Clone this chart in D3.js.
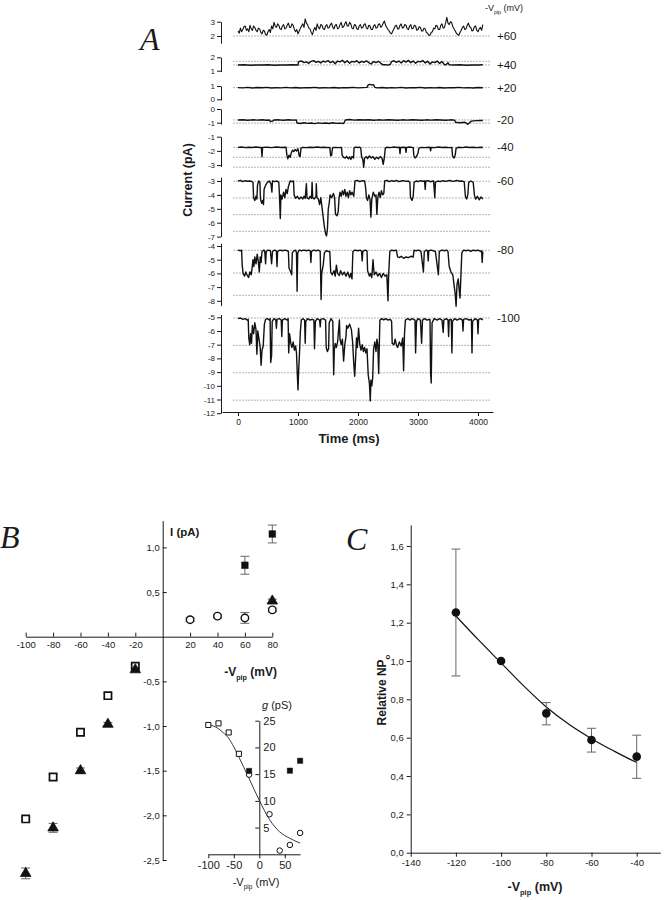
<!DOCTYPE html>
<html><head><meta charset="utf-8">
<script src="https://cdn.jsdelivr.net/npm/d3@7"></script>
<style>body{margin:0;background:#fff}svg{display:block}text{font-family:"Liberation Sans",Arial,sans-serif;fill:#1a1a1a}</style>
</head><body><svg id="c" width="664" height="900"></svg>
<script>
// ---------------- DATA ----------------
// Panel A: single-channel traces, flat [time(ms), current(pA), ...]
const traceLabels = ["+60", "+40", "+20", "-20", "-40", "-60", "-80", "-100"];
const tr60 = [0,2.35,20,2.2,40,2.55,60,2.3,80,2.45,100,2.65,120,2.7,140,2.4,160,2.5,180,2.3,200,2.75,220,2.5,240,2.4,260,2.7,280,2.6,300,2.4,320,2.3,340,2.55,360,2.5,380,2.25,400,2.15,420,2.4,440,2.35,460,2.1,480,2.05,500,2.3,520,2.45,540,2.25,560,2.7,580,2.5,600,2.95,620,2.7,640,2.6,660,2.85,680,2.75,700,2.5,720,2.45,740,2.7,760,2.8,780,2.5,800,2.55,820,2.75,840,2.9,860,2.6,880,2.6,900,2.85,920,2.75,940,2.45,960,2.3,980,2.45,1000,2.15,1020,2.35,1040,2.55,1060,2.7,1080,2.85,1100,2.6,1120,3.2,1140,2.9,1160,2.8,1180,2.55,1200,2.5,1220,2.25,1240,2.1,1260,2.4,1280,2.6,1300,2.4,1320,2.85,1340,2.6,1360,2.5,1380,2.8,1400,2.75,1420,2.5,1440,2.45,1460,2.7,1480,2.8,1500,2.55,1520,2.6,1540,2.8,1560,2.9,1580,2.6,1600,2.5,1620,2.75,1640,2.8,1660,2.5,1680,2.55,1700,2.8,1720,2.95,1740,2.6,1760,2.65,1780,2.85,1800,3.0,1820,2.7,1840,2.7,1860,2.95,1880,2.85,1900,2.55,1920,2.5,1940,2.8,1960,2.75,1980,2.5,2000,2.45,2020,2.7,2040,2.8,2060,2.55,2080,2.6,2100,2.8,2120,2.85,2140,2.55,2160,2.5,2180,2.75,2200,2.7,2220,2.45,2240,2.45,2260,2.7,2280,2.8,2300,2.55,2320,2.6,2340,2.8,2360,2.85,2380,2.6,2400,2.7,2420,2.9,2440,3.05,2460,2.75,2480,2.6,2500,2.45,2520,2.35,2540,2.2,2560,2.15,2580,2.35,2600,2.5,2620,2.7,2640,2.75,2660,2.5,2680,2.5,2700,2.75,2720,2.85,2740,2.55,2760,2.6,2780,2.8,2800,2.75,2820,2.5,2840,2.45,2860,2.7,2880,2.8,2900,2.5,2920,2.55,2940,2.75,2960,2.7,2980,2.4,3000,2.45,3020,2.65,3040,2.6,3060,2.35,3080,2.35,3100,2.55,3120,2.5,3140,2.25,3160,2.2,3180,2.05,3200,2.05,3220,2.25,3240,2.3,3260,2.55,3280,2.5,3300,2.75,3320,2.7,3340,2.45,3360,2.45,3380,2.75,3400,2.85,3420,2.55,3440,2.6,3460,2.9,3480,3.3,3500,2.9,3520,2.8,3540,3.0,3560,2.95,3580,2.65,3600,2.5,3620,2.35,3640,2.2,3660,2.1,3680,2.05,3700,2.25,3720,2.4,3740,2.6,3760,2.7,3780,2.45,3800,2.5,3820,2.75,3840,2.9,3860,2.65,3880,2.6,3900,2.35,3920,2.4,3940,2.65,3960,2.7,3980,2.4,4000,2.3,4020,2.5,4040,2.6,4060,2.4,4080,2.8];
const tr40 = [0,1.42,100,1.44,200,1.41,300,1.43,400,1.42,500,1.44,600,1.41,700,1.43,800,1.42,900,1.44,1000,1.42,1010,1.68,1060,1.72,1100,1.6,1140,1.66,1180,1.55,1220,1.7,1260,1.75,1300,1.62,1340,1.7,1380,1.58,1420,1.72,1460,1.65,1500,1.76,1540,1.6,1580,1.7,1620,1.52,1660,1.72,1700,1.66,1740,1.78,1780,1.6,1820,1.74,1860,1.56,1900,1.7,1940,1.64,1980,1.75,2020,1.58,2060,1.7,2100,1.62,2140,1.74,2180,1.6,2220,1.5,2260,1.68,2300,1.6,2340,1.7,2380,1.55,2420,1.44,2460,1.45,2500,1.42,2540,1.48,2560,1.68,2600,1.74,2640,1.62,2680,1.72,2720,1.58,2760,1.75,2800,1.64,2840,1.77,2880,1.6,2920,1.72,2960,1.56,3000,1.7,3040,1.66,3080,1.76,3120,1.58,3160,1.7,3200,1.5,3240,1.66,3280,1.6,3320,1.72,3360,1.54,3400,1.68,3440,1.46,3460,1.43,3500,1.6,3520,1.44,3600,1.42,3700,1.44,3800,1.41,3900,1.43,4000,1.42,4080,1.44];
const tr20 = [0,0.88,80,0.86,160,0.9,240,0.85,320,0.89,400,0.87,480,0.9,560,0.85,640,0.88,720,0.86,800,0.9,880,0.86,960,0.89,1040,0.85,1120,0.88,1200,0.87,1280,0.9,1360,0.85,1440,0.88,1520,0.86,1600,0.89,1680,0.85,1760,0.88,1840,0.87,1920,0.9,2000,0.86,2080,0.88,2150,0.9,2170,1.08,2200,1.12,2230,1.08,2260,1.1,2280,0.9,2320,0.86,2400,0.89,2480,0.85,2560,0.88,2640,0.86,2720,0.9,2800,0.85,2880,0.88,2960,0.87,3040,0.9,3120,0.85,3200,0.88,3280,0.86,3360,0.89,3440,0.85,3520,0.88,3600,0.87,3680,0.9,3760,0.86,3840,0.88,3920,0.85,4000,0.89,4080,0.87];
const trM20 = [0,-0.8,80,-0.78,160,-0.82,240,-0.79,320,-0.81,400,-0.78,480,-0.82,520,-0.8,540,-0.92,580,-0.88,600,-0.8,680,-0.79,760,-0.82,840,-0.78,920,-0.81,970,-0.8,985,-1.02,1040,-1.06,1100,-1.0,1160,-1.05,1220,-1.02,1280,-1.07,1340,-1.01,1400,-1.05,1460,-1.02,1520,-1.06,1580,-1.0,1640,-1.05,1700,-1.03,1760,-1.06,1790,-0.8,1860,-0.77,1940,-0.81,2020,-0.78,2100,-0.8,2180,-0.78,2260,-0.82,2340,-0.79,2420,-0.81,2500,-0.78,2580,-0.8,2660,-0.82,2740,-0.79,2820,-0.81,2900,-0.78,2980,-0.8,3060,-0.82,3140,-0.79,3220,-0.81,3300,-0.78,3380,-0.8,3460,-0.82,3540,-0.79,3610,-0.81,3625,-0.97,3700,-1.0,3780,-0.97,3800,-1.02,3830,-1.12,3860,-1.0,3880,-0.9,3920,-0.87,3980,-0.85,4040,-0.83,4080,-0.84];
const trM40 = [0,-1.75,60,-1.73,120,-1.77,180,-1.74,240,-1.76,300,-1.73,360,-1.76,390,-1.75,400,-2.4,410,-1.75,480,-1.74,560,-1.77,640,-1.73,720,-1.76,800,-1.74,815,-2.3,830,-2.55,850,-2.3,870,-2.45,890,-2.1,910,-1.95,930,-2.05,950,-1.9,975,-2.0,1000,-1.85,1020,-2.35,1035,-2.4,1050,-1.8,1080,-1.75,1140,-1.77,1200,-1.74,1260,-1.76,1320,-1.73,1380,-1.76,1440,-1.74,1500,-1.77,1530,-1.75,1545,-2.35,1560,-2.3,1575,-1.78,1620,-1.75,1680,-1.77,1725,-1.76,1735,-2.3,1760,-2.45,1790,-2.5,1810,-2.38,1840,-2.55,1860,-2.42,1880,-2.6,1900,-2.4,1925,-2.5,1935,-1.78,1960,-1.73,2000,-1.76,2020,-1.74,2045,-1.78,2060,-2.4,2080,-2.6,2095,-3.15,2110,-2.5,2140,-2.4,2160,-2.55,2190,-2.35,2220,-2.5,2250,-2.4,2280,-2.6,2310,-2.45,2340,-2.55,2370,-2.4,2400,-2.5,2420,-2.95,2440,-2.45,2455,-1.8,2480,-1.74,2540,-1.77,2600,-1.73,2650,-1.76,2690,-1.74,2700,-2.2,2710,-1.76,2760,-1.74,2790,-1.76,2800,-2.1,2810,-1.75,2860,-1.73,2920,-1.77,2930,-2.3,2950,-2.5,2975,-2.4,3000,-2.15,3015,-1.8,3060,-1.75,3120,-1.77,3180,-1.74,3200,-1.76,3210,-2.0,3220,-1.75,3280,-1.77,3340,-1.73,3400,-1.76,3460,-1.74,3520,-1.77,3565,-1.75,3575,-2.35,3600,-2.5,3620,-2.3,3635,-1.8,3680,-1.74,3740,-1.77,3800,-1.73,3860,-1.76,3920,-1.74,3980,-1.77,4040,-1.74,4080,-1.76];
const trM60 = [0,-3.0,40,-2.95,80,-3.05,120,-2.98,160,-3.02,200,-3.0,230,-3.05,250,-3.1,260,-4.2,280,-4.4,300,-4.1,315,-4.3,325,-3.3,345,-3.0,365,-3.1,375,-4.3,395,-4.6,410,-4.4,425,-4.7,435,-3.6,460,-3.3,490,-3.1,520,-3.0,550,-3.2,565,-3.8,575,-3.0,610,-3.05,650,-3.0,680,-3.1,690,-3.9,705,-5.7,715,-4.0,735,-4.3,760,-3.8,780,-4.2,800,-3.6,820,-3.9,840,-3.4,870,-3.0,900,-3.05,925,-3.0,935,-4.0,960,-4.25,990,-4.1,1020,-4.3,1050,-4.15,1080,-4.3,1100,-4.1,1120,-4.25,1140,-3.2,1150,-4.2,1180,-4.3,1200,-4.1,1225,-4.25,1235,-3.1,1245,-4.2,1270,-4.3,1300,-4.1,1305,-3.2,1315,-4.2,1340,-4.3,1360,-4.7,1380,-4.2,1400,-4.9,1420,-5.6,1440,-6.3,1460,-6.8,1475,-6.95,1490,-6.5,1505,-5.0,1520,-4.6,1535,-4.0,1560,-4.2,1590,-3.9,1610,-4.2,1625,-5.4,1650,-5.5,1670,-5.2,1685,-4.2,1700,-3.8,1720,-4.1,1740,-3.7,1760,-4.0,1780,-3.6,1800,-4.1,1820,-3.8,1840,-4.2,1860,-3.7,1880,-4.0,1900,-3.8,1930,-4.1,1950,-3.0,1990,-2.95,2030,-3.05,2070,-2.98,2110,-3.0,2125,-3.4,2140,-4.2,2160,-4.4,2180,-4.0,2200,-4.3,2215,-5.6,2230,-4.3,2255,-3.8,2280,-4.1,2300,-4.0,2315,-5.4,2330,-4.2,2350,-3.8,2370,-4.2,2390,-3.7,2410,-4.0,2430,-3.9,2445,-3.0,2480,-2.95,2520,-3.05,2560,-2.98,2600,-3.02,2640,-2.95,2680,-3.05,2720,-3.0,2760,-2.97,2800,-3.03,2840,-3.0,2865,-3.1,2875,-4.2,2900,-4.4,2920,-4.1,2935,-3.1,2970,-3.0,3000,-3.05,3040,-2.98,3080,-3.02,3110,-3.0,3120,-3.6,3130,-3.0,3170,-2.98,3200,-3.05,3260,-3.0,3280,-4.2,3290,-3.1,3330,-3.0,3370,-3.05,3410,-2.98,3450,-3.02,3490,-3.0,3530,-2.95,3570,-3.03,3610,-3.0,3650,-2.96,3690,-3.02,3730,-3.0,3770,-3.05,3790,-4.1,3810,-4.3,3830,-4.0,3845,-3.1,3880,-3.0,3920,-3.1,3940,-4.0,3960,-4.3,3990,-4.1,4020,-4.35,4050,-4.15,4080,-4.3];
const trM80 = [0,-4.3,40,-4.35,60,-4.3,70,-5.4,85,-6.0,110,-6.2,130,-5.9,150,-6.1,175,-6.3,200,-5.9,220,-6.1,235,-5.6,250,-5.0,265,-5.5,280,-4.8,300,-5.3,320,-4.6,340,-5.2,355,-5.9,370,-4.8,385,-5.2,400,-4.4,430,-4.3,445,-4.35,460,-5.3,470,-4.4,500,-4.3,540,-4.35,560,-5.3,575,-4.4,610,-4.3,640,-4.35,650,-5.5,660,-4.4,700,-4.3,740,-4.35,780,-4.3,820,-4.35,840,-4.4,850,-5.6,870,-5.8,895,-6.1,905,-4.5,930,-4.35,960,-4.3,975,-4.5,985,-7.3,995,-4.5,1020,-4.3,1060,-4.35,1100,-4.3,1140,-4.35,1180,-4.3,1205,-4.35,1215,-5.2,1225,-4.4,1260,-4.3,1300,-4.35,1340,-4.3,1370,-4.4,1385,-7.9,1395,-6.0,1420,-5.4,1440,-4.5,1470,-4.35,1510,-4.4,1530,-4.4,1545,-5.9,1570,-6.1,1600,-5.8,1620,-6.2,1640,-5.4,1660,-6.0,1690,-6.15,1710,-5.8,1740,-6.1,1770,-5.9,1800,-6.2,1830,-5.9,1860,-6.3,1880,-6.0,1900,-6.4,1915,-4.4,1950,-4.3,2000,-4.35,2040,-4.3,2060,-4.4,2070,-5.1,2080,-4.4,2120,-4.3,2150,-4.35,2160,-5.8,2190,-6.2,2210,-6.0,2230,-6.3,2250,-5.0,2270,-6.1,2300,-5.9,2330,-6.2,2360,-6.0,2390,-6.3,2420,-6.0,2450,-6.2,2480,-6.1,2500,-8.0,2510,-6.2,2530,-4.4,2560,-4.3,2600,-4.35,2640,-4.3,2660,-4.8,2690,-4.85,2720,-4.75,2760,-4.9,2800,-4.8,2840,-4.85,2880,-4.75,2920,-4.8,2935,-4.3,2970,-4.35,3010,-4.3,3050,-4.4,3090,-5.9,3105,-4.4,3140,-4.3,3160,-4.35,3170,-5.1,3180,-4.35,3220,-4.3,3290,-4.4,3340,-6.1,3355,-4.4,3400,-4.3,3440,-4.35,3480,-4.3,3500,-4.4,3520,-5.5,3550,-5.9,3580,-6.1,3600,-6.8,3620,-7.5,3635,-8.4,3650,-6.8,3670,-6.4,3700,-7.8,3715,-6.2,3730,-4.5,3760,-4.3,3800,-4.35,3840,-4.3,3880,-4.4,3920,-4.3,3960,-4.35,4000,-4.3,4040,-4.4,4060,-4.35,4070,-5.2,4080,-4.4];
const trM100 = [0,-5.1,40,-5.05,80,-5.15,120,-5.1,150,-5.2,170,-5.15,180,-6.5,195,-7.0,210,-6.2,225,-6.9,240,-5.6,260,-6.2,280,-5.4,300,-5.9,315,-7.7,330,-6.0,350,-6.6,370,-7.2,385,-8.5,400,-7.4,420,-7.1,440,-5.5,460,-5.15,490,-5.1,520,-5.2,535,-5.1,545,-8.3,560,-7.8,570,-5.3,600,-5.1,630,-5.2,640,-5.8,650,-5.15,690,-5.1,720,-5.2,730,-6.4,740,-5.2,780,-5.1,820,-5.2,835,-5.1,845,-7.6,860,-6.2,880,-6.9,900,-7.2,920,-6.8,940,-7.4,960,-7.1,975,-7.6,990,-9.3,1000,-10.3,1010,-9.0,1025,-7.6,1040,-6.0,1055,-5.2,1080,-5.1,1110,-5.2,1120,-6.9,1130,-5.3,1160,-5.1,1200,-5.2,1240,-5.15,1265,-5.2,1275,-7.3,1290,-5.3,1320,-5.1,1360,-5.2,1370,-5.7,1380,-5.15,1420,-5.1,1460,-5.2,1470,-7.2,1490,-7.5,1510,-7.3,1520,-5.4,1550,-5.1,1580,-5.3,1595,-9.2,1605,-7.4,1620,-6.9,1640,-7.2,1660,-6.8,1690,-5.2,1700,-6.6,1720,-7.0,1740,-6.6,1760,-8.2,1780,-7.0,1800,-6.4,1810,-5.6,1830,-5.8,1860,-5.5,1890,-5.9,1910,-6.8,1930,-8.4,1945,-9.3,1960,-8.0,1975,-6.5,1990,-7.2,2010,-5.8,2030,-7.0,2050,-7.4,2070,-7.0,2090,-7.5,2110,-7.2,2130,-7.6,2150,-7.3,2170,-9.2,2190,-9.8,2205,-11.1,2215,-9.6,2230,-10.0,2245,-9.4,2260,-7.3,2280,-6.8,2300,-7.5,2315,-6.6,2330,-7.0,2345,-9.1,2355,-7.0,2365,-5.2,2400,-5.1,2430,-5.2,2460,-5.1,2500,-5.2,2540,-5.15,2560,-5.3,2570,-6.9,2600,-7.0,2620,-6.6,2640,-7.0,2660,-7.2,2690,-6.8,2720,-7.1,2745,-6.5,2760,-8.9,2775,-6.2,2790,-5.2,2830,-5.1,2870,-5.2,2900,-5.1,2950,-5.2,2960,-7.6,2975,-5.3,3000,-5.1,3040,-5.2,3060,-6.9,3075,-5.2,3110,-5.1,3150,-5.2,3200,-5.15,3210,-9.0,3220,-9.8,3235,-5.4,3270,-5.1,3320,-5.2,3360,-5.1,3400,-5.2,3420,-6.1,3430,-5.2,3470,-5.1,3500,-5.2,3510,-6.4,3520,-5.2,3555,-5.15,3565,-7.6,3575,-5.3,3610,-5.1,3650,-5.2,3700,-5.1,3740,-5.2,3750,-6.0,3760,-5.15,3800,-5.1,3850,-5.2,3890,-5.15,3900,-7.6,3910,-5.3,3950,-5.1,3990,-5.2,4000,-6.2,4010,-5.15,4050,-5.1,4080,-5.2];
const traceData = [tr60, tr40, tr20, trM20, trM40, trM60, trM80, trM100];
const traceTicks = [[2,3],[1,2],[0,1],[-1,0],[-3,-2,-1],[-7,-6,-5,-4,-3],[-8,-7,-6,-5,-4],[-12,-11,-10,-9,-8,-7,-6,-5]];
const traceLevels = [[2.0],[1.43,1.70],[0.88],[-0.8,-1.03],[-1.75,-2.45,-3.15],[-3.02,-4.22,-5.42,-6.62],[-4.31,-5.97,-7.6],[-5.05,-7.05,-9.05,-11.05]];
const timeTicks = [0, 1000, 2000, 3000, 4000];

// Panel B: I-V relation
const bSqV = [60, 80], bSqI = [0.80, 1.15], bSqErr = [0.10, 0.10];
const bCircV = [20, 40, 60, 80], bCircI = [0.19, 0.23, 0.21, 0.30], bCircErr = [0.02, 0.02, 0.06, 0.02];
const bTriV = [-100, -80, -60, -40, -20, 80], bTriI = [-2.65, -2.14, -1.50, -0.98, -0.37, 0.40], bTriErr = [0.06, 0.05, 0.03, 0.02, 0.02, 0.02];
const bOSqV = [-100, -80, -60, -40, -20], bOSqI = [-2.04, -1.57, -1.07, -0.66, -0.33], bOSqErr = [0.02, 0.03, 0.02, 0.02, 0.02];
const bXTicks = [-100, -80, -60, -40, -20, 20, 40, 60, 80];
const bYTicks = [1.0, 0.5, -0.5, -1.0, -1.5, -2.0, -2.5];
// Inset: conductance
const gOSqV = [-100, -80, -60, -40], gOSqG = [24.2, 24.5, 22.8, 18.8];
const gCircV = [-20, 20, 40, 60, 80], gCircG = [14.9, 7.5, 0.7, 1.75, 4.0];
const gSqV = [-20, 60, 80], gSqG = [15.6, 15.65, 17.5];
const gFitV = [-104,-90,-80,-70,-60,-50,-40,-30,-20,-10,0,10,20,30,40,50,60,70,80];
const gFitG = [24.3,24.0,23.5,22.7,21.7,20.1,18.2,16.2,14.2,12.1,10.1,8.2,6.5,5.2,4.2,3.5,3.0,2.5,2.1];
const gXTicks = [-100, -50, 0, 50], gYTicks = [5, 10, 15, 20, 25];

// Panel C: relative NPo
const cV = [-120, -100, -80, -60, -40];
const cNP = [1.253, 1.0, 0.727, 0.588, 0.501];
const cLo = [0.922, 1.0, 0.667, 0.525, 0.388];
const cHi = [1.584, 1.0, 0.783, 0.649, 0.613];
const cFitV = [-120, -110, -100, -90, -80, -70, -60, -50, -40];
const cFitNP = [1.235, 1.11, 0.99, 0.87, 0.76, 0.67, 0.595, 0.53, 0.47];
const cXTicks = [-140, -120, -100, -80, -60, -40];
const cYTicks = [0, 0.2, 0.4, 0.6, 0.8, 1.0, 1.2, 1.4, 1.6];

// ---------------- DRAWING ----------------
const svg = d3.select("#c");
const comma = d => d3.format(".1f")(d).replace(".", ",").replace("−", "-");
const ink = "#1a1a1a";
function styleAxis(g, fs) {
  g.selectAll("path.domain").attr("stroke", ink).attr("stroke-width", 1);
  g.selectAll(".tick line").attr("stroke", ink).attr("stroke-width", 1);
  g.selectAll(".tick text").attr("font-size", fs).style("fill", ink).style("font-family", '"Liberation Sans",Arial,sans-serif');
}
function vpip(g, x, y, fs, weight, anchor) {
  const t = g.append("text").attr("x", x).attr("y", y).attr("font-size", fs)
    .attr("font-weight", weight).attr("text-anchor", anchor);
  t.append("tspan").text("-V");
  t.append("tspan").attr("dy", fs * 0.3).attr("font-size", fs * 0.6).text("pip");
  t.append("tspan").attr("dy", -fs * 0.3).text(" (mV)");
  return t;
}
function letter(x, y, s) {
  svg.append("text").attr("x", x).attr("y", y).attr("font-size", 32).attr("font-style", "italic")
    .style("font-family", '"Liberation Serif","Times New Roman",serif').text(s);
}

// ---- Panel A ----
const xA = d3.scaleLinear().domain([0, 4000]).range([238, 478]);
const traceLayout = [
  {ref: 3, y: 21.7, ppa: 14.3, ext: [3, 1.5]},
  {ref: 2, y: 57.3, ppa: 13.4, ext: [2, 0.93]},
  {ref: 1, y: 86, ppa: 13.3, ext: [1, -0.05]},
  {ref: 0, y: 109, ppa: 13.7, ext: [0, -1.1]},
  {ref: -1, y: 136.7, ppa: 14.2, ext: [-1, -3.1]},
  {ref: -3, y: 181, ppa: 13.9, ext: [-2.72, -7]},
  {ref: -4, y: 246, ppa: 13.7, ext: [-3.8, -8.35]},
  {ref: -5, y: 317.3, ppa: 13.7, ext: [-4.8, -12]}
];
const gA = svg.append("g");
traceData.forEach((flat, k) => {
  const L = traceLayout[k];
  const y = d3.scaleLinear().domain([L.ref, L.ref - 1]).range([L.y, L.y + L.ppa]);
  gA.selectAll(null).data(traceLevels[k]).join("line")
    .attr("x1", xA(-75)).attr("x2", xA(4200)).attr("y1", d => y(d)).attr("y2", d => y(d))
    .attr("stroke", "#444").attr("stroke-width", 0.8).attr("stroke-dasharray", "1,2");
  const pts = d3.range(0, flat.length, 2).map(i => [flat[i], flat[i + 1]]);
  gA.append("path").datum(pts)
    .attr("d", d3.line().x(d => xA(d[0])).y(d => y(d[1])))
    .attr("fill", "none").attr("stroke", "#111").attr("stroke-width", k === 0 ? 1.1 : 1.4).attr("stroke-linejoin", "round");
  const ys = y.copy().domain(L.ext).range(L.ext.map(y));
  const ax = gA.append("g").attr("transform", "translate(221,0)")
    .call(d3.axisLeft(ys).tickValues(traceTicks[k]).tickSize(4).tickSizeOuter(0).tickPadding(2).tickFormat(d => String(d)));
  styleAxis(ax, 8);
  gA.append("text").attr("x", 497).attr("y", y(traceLevels[k][0]) + 4).attr("font-size", 11.5)
    .text(traceLabels[k]);
});
const xAx = xA.copy().domain([-265, 4250]).range([xA(-265), xA(4250)]);
const tax = gA.append("g").attr("transform", "translate(0,412)")
  .call(d3.axisBottom(xAx).tickValues(timeTicks).tickSize(4).tickSizeOuter(0).tickPadding(3).tickFormat(d => String(d)));
styleAxis(tax, 8.5);
gA.append("text").attr("x", 349).attr("y", 443).attr("text-anchor", "middle").attr("font-size", 13)
  .attr("font-weight", "bold").text("Time (ms)");
gA.append("text").attr("transform", "translate(192,180) rotate(-90)").attr("text-anchor", "middle")
  .attr("font-size", 12.5).attr("font-weight", "bold").text("Current (pA)");
vpip(gA, 504, 11, 9, "normal", "middle");
letter(140, 50, "A");

// ---- Panel B ----
const xB = d3.scaleLinear().domain([-100, 80]).range([25.7, 272.3]);
const yB = d3.scaleLinear().domain([0, -2.5]).range([636.7, 860]);
const gB = svg.append("g");
const bxa = gB.append("g").attr("transform", `translate(0,${yB(0)})`)
  .call(d3.axisBottom(xB).tickValues(bXTicks).tickSize(-4).tickSizeOuter(0).tickPadding(5).tickFormat(d => String(d)));
styleAxis(bxa, 9.5);
const yBax = yB.copy().domain([1.3, -2.5]).range([yB(1.3), yB(-2.5)]);
const bya = gB.append("g").attr("transform", `translate(${xB(0)},0)`)
  .call(d3.axisLeft(yBax).tickValues(bYTicks).tickSize(-4).tickSizeOuter(0).tickPadding(3).tickFormat(comma));
styleAxis(bya, 9.5);
gB.append("text").attr("x", 170).attr("y", 536).attr("font-size", 11.5).attr("font-weight", "bold").text("I (pA)");
vpip(gB, 277, 676, 12, "bold", "end");
letter(0, 548, "B");

function errBars(g, xs, ys, errs, xS, yS, cap) {
  xs.forEach((v, i) => {
    if (!errs[i]) return;
    const x = xS(v), y1 = yS(ys[i] - errs[i]), y2 = yS(ys[i] + errs[i]);
    g.append("line").attr("x1", x).attr("x2", x).attr("y1", y1).attr("y2", y2).attr("stroke", "#666").attr("stroke-width", 1);
    [y1, y2].forEach(yy => g.append("line").attr("x1", x - cap).attr("x2", x + cap).attr("y1", yy).attr("y2", yy)
      .attr("stroke", "#666").attr("stroke-width", 1));
  });
}
function symbols(g, xs, ys, xS, yS, type, size, filled, sw) {
  g.selectAll(null).data(xs.map((v, i) => [v, ys[i]])).join("path")
    .attr("transform", d => `translate(${xS(d[0])},${yS(d[1])})`)
    .attr("d", d3.symbol().type(type).size(size))
    .attr("fill", filled ? "#111" : "#fff").attr("stroke", "#111").attr("stroke-width", sw);
}
errBars(gB, bSqV, bSqI, bSqErr, xB, yB, 4.5);
errBars(gB, bCircV, bCircI, bCircErr, xB, yB, 4.5);
errBars(gB, bTriV, bTriI, bTriErr, xB, yB, 4.5);
errBars(gB, bOSqV, bOSqI, bOSqErr, xB, yB, 4.5);
symbols(gB, bOSqV, bOSqI, xB, yB, d3.symbolSquare, 52, false, 1.7);
symbols(gB, bTriV, bTriI, xB, yB, d3.symbolTriangle, 48, true, 0.8);
symbols(gB, bCircV, bCircI, xB, yB, d3.symbolCircle, 44, false, 1.4);
symbols(gB, bSqV, bSqI, xB, yB, d3.symbolSquare, 44, true, 0.5);

// Inset
const xI = d3.scaleLinear().domain([-100, 0]).range([208.3, 259.3]);
const yI = d3.scaleLinear().domain([0, 25]).range([854.3, 720.7]);
const gI = svg.append("g");
const xIax = xI.copy().domain([-100, 80]).range([xI(-100), xI(80)]);
const ixa = gI.append("g").attr("transform", `translate(0,${yI(0)})`)
  .call(d3.axisBottom(xIax).tickValues(gXTicks).tickSize(4).tickSizeOuter(0).tickPadding(3).tickFormat(d => String(d)));
styleAxis(ixa, 11);
const iya = gI.append("g").attr("transform", `translate(${xI(0)},0)`)
  .call(d3.axisRight(yI).tickValues(gYTicks).tickSize(-4).tickSizeOuter(0).tickPadding(4).tickFormat(d => String(d)));
styleAxis(iya, 11);
const gt = gI.append("text").attr("x", 262).attr("y", 709).attr("font-size", 11);
gt.append("tspan").attr("font-style", "italic").text("g");
gt.append("tspan").text(" (pS)");
vpip(gI, 256, 886, 11, "normal", "middle");
gI.append("path").datum(gFitV.map((v, i) => [v, gFitG[i]]))
  .attr("d", d3.line().curve(d3.curveMonotoneX).x(d => xI(d[0])).y(d => yI(d[1])))
  .attr("fill", "none").attr("stroke", "#222").attr("stroke-width", 0.9);
symbols(gI, gOSqV, gOSqG, xI, yI, d3.symbolSquare, 26, false, 1);
symbols(gI, gCircV, gCircG, xI, yI, d3.symbolCircle, 24, false, 1);
symbols(gI, gSqV, gSqG, xI, yI, d3.symbolSquare, 28, true, 0.5);

// ---- Panel C ----
const xC = d3.scaleLinear().domain([-140, -40]).range([410.7, 636.7]);
const yC = d3.scaleLinear().domain([0, 1.6]).range([852.7, 546]);
const gC = svg.append("g");
const xCax = xC.copy().domain([-140, -29.5]).range([xC(-140), xC(-29.5)]);
const cxa = gC.append("g").attr("transform", `translate(0,${yC(0)})`)
  .call(d3.axisBottom(xCax).tickValues(cXTicks).tickSize(4).tickSizeOuter(0).tickPadding(3).tickFormat(d => String(d)));
styleAxis(cxa, 9.5);
const yCax = yC.copy().domain([0, 1.71]).range([yC(0), yC(1.71)]);
const cya = gC.append("g").attr("transform", `translate(${xC(-140)},0)`)
  .call(d3.axisLeft(yCax).tickValues(cYTicks).tickSize(4).tickSizeOuter(0).tickPadding(3).tickFormat(comma));
styleAxis(cya, 9.5);
const rl = gC.append("text").attr("transform", "translate(386,690) rotate(-90)").attr("text-anchor", "middle")
  .attr("font-size", 12).attr("font-weight", "bold");
rl.append("tspan").text("Relative NP");
rl.append("tspan").attr("dy", 3.5).attr("font-size", 8).text("o");
vpip(gC, 535, 891, 12.5, "bold", "middle");
letter(346, 550, "C");
gC.append("path").datum(cFitV.map((v, i) => [v, cFitNP[i]]))
  .attr("d", d3.line().curve(d3.curveMonotoneX).x(d => xC(d[0])).y(d => yC(d[1])))
  .attr("fill", "none").attr("stroke", "#111").attr("stroke-width", 1.2);
cV.forEach((v, i) => {
  if (cHi[i] === cLo[i]) return;
  const x = xC(v);
  gC.append("line").attr("x1", x).attr("x2", x).attr("y1", yC(cLo[i])).attr("y2", yC(cHi[i])).attr("stroke", "#666");
  [cLo[i], cHi[i]].forEach(t => gC.append("line").attr("x1", x - 4.5).attr("x2", x + 4.5)
    .attr("y1", yC(t)).attr("y2", yC(t)).attr("stroke", "#666"));
});
gC.selectAll(null).data(cV.map((v, i) => [v, cNP[i]])).join("circle")
  .attr("cx", d => xC(d[0])).attr("cy", d => yC(d[1])).attr("r", 4.3).attr("fill", "#111");
</script></body></html>
